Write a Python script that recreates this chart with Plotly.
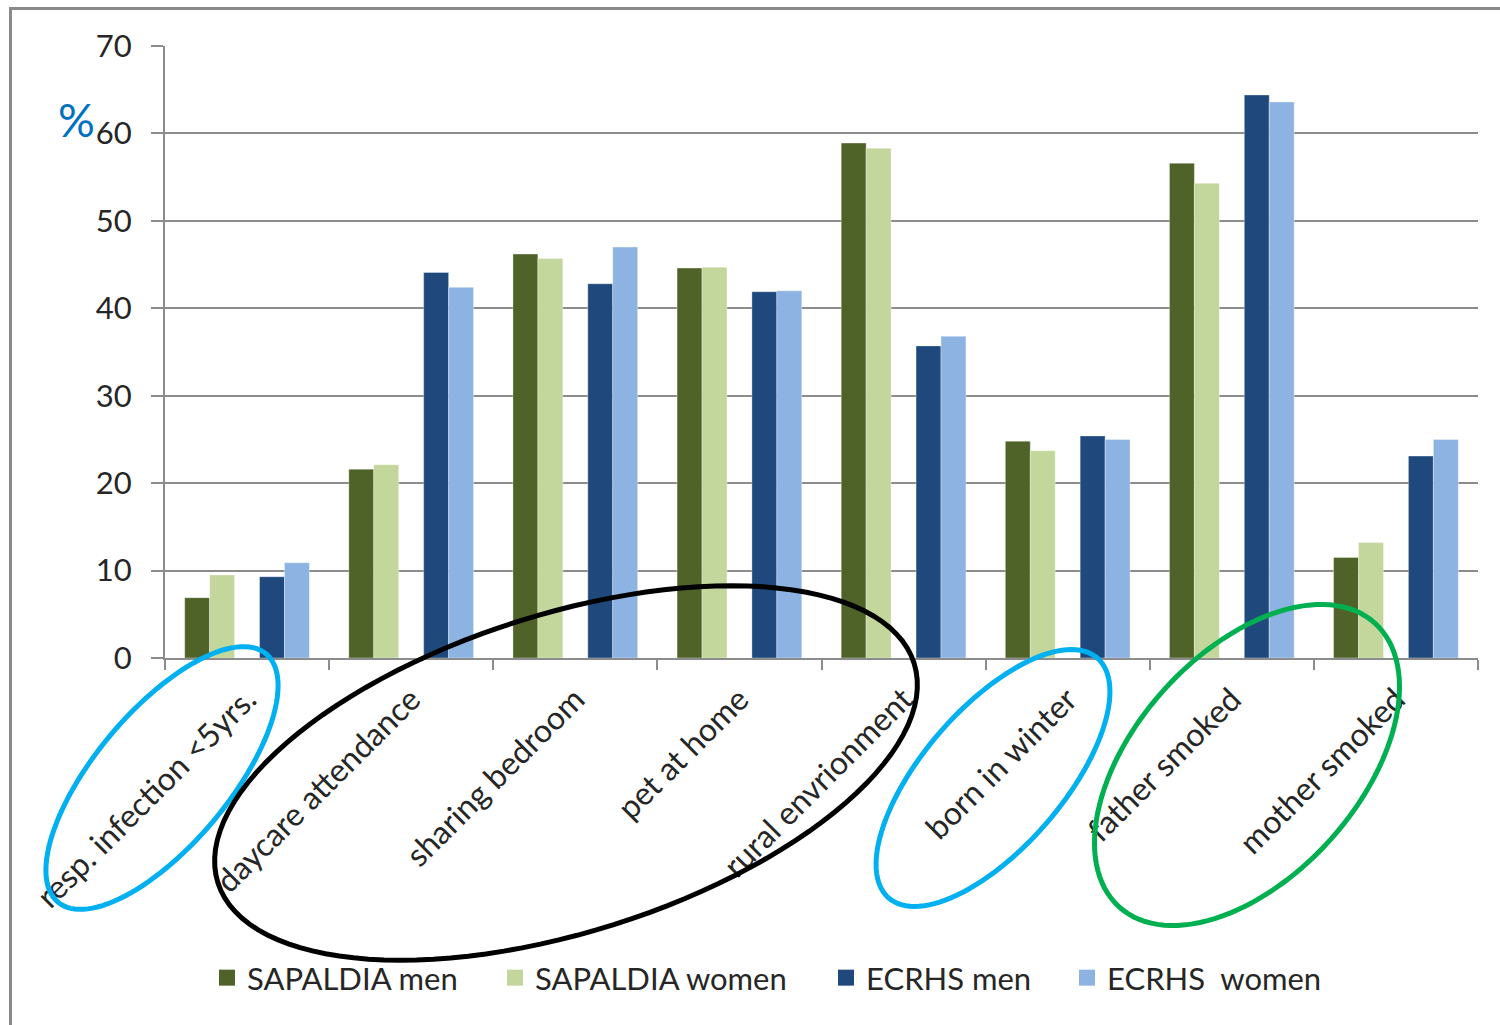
import numpy as np
import plotly.graph_objects as go

# ---- data -------------------------------------------------------------
categories = [
    "resp. infection <5yrs.",
    "daycare attendance",
    "sharing bedroom",
    "pet at home",
    "rural envrionment",
    "born in winter",
    "father smoked",
    "mother smoked",
]
sapaldia_men = [6.9, 21.6, 46.2, 44.6, 58.9, 24.8, 56.6, 11.5]
sapaldia_women = [9.5, 22.1, 45.7, 44.7, 58.3, 23.7, 54.3, 13.2]
ecrhs_men = [9.3, 44.1, 42.8, 41.9, 35.7, 25.4, 64.4, 23.1]
ecrhs_women = [10.9, 42.4, 47.0, 42.0, 36.8, 25.0, 63.6, 25.0]

series_names = ["SAPALDIA men", "SAPALDIA women", "ECRHS men", "ECRHS  women"]
y_ticks = [0, 10, 20, 30, 40, 50, 60, 70]

# ---- page geometry ----------------------------------------------------
W, H = 1500, 1025
ML, MR, MT, MB = 165, 22, 46, 367
PW, PH = W - ML - MR, H - MT - MB


def px_x(px):
    return (px - ML) / PW


def px_y(py):
    return (H - MB - py) / PH


FONT = "Lato, Carlito, 'Open Sans', sans-serif"
TXT = "#262626"
GRID = "#8c8c8c"

colors = ["#4F6228", "#C3D69B", "#1F497D", "#8DB3E2"]
# five slots per category, the middle one left empty
slot = 0.152
offsets = [-2.5 * slot, -1.5 * slot, 0.5 * slot, 1.5 * slot]
values = [sapaldia_men, sapaldia_women, ecrhs_men, ecrhs_women]
legend_ids = ["legend", "legend2", "legend3", "legend4"]

fig = go.Figure()
for name, vals, col, off in zip(series_names, values, colors, offsets):
    fig.add_trace(
        go.Bar(
            x=categories,
            y=vals,
            name=name,
            marker=dict(color=col, line=dict(color="rgba(255,255,255,0.35)", width=1)),
            width=slot,
            offset=off,
            showlegend=False,
        )
    )

# legend entries with larger square swatches
for name, col, lg in zip(series_names, colors, legend_ids):
    fig.add_trace(
        go.Scatter(
            x=[None],
            y=[None],
            mode="markers",
            name=name,
            marker=dict(symbol="square", size=17, color=col, line=dict(width=0)),
            legend=lg,
            hoverinfo="skip",
        )
    )


def ellipse_path(cx, cy, a, b, theta_deg, n=120):
    th = np.radians(theta_deg)
    t = np.linspace(0, 2 * np.pi, n, endpoint=False)
    xs = cx + a * np.cos(t) * np.cos(th) + b * np.sin(t) * np.sin(th)
    ys = cy - a * np.cos(t) * np.sin(th) + b * np.sin(t) * np.cos(th)
    pts = [f"{px_x(x):.5f},{px_y(y):.5f}" for x, y in zip(xs, ys)]
    return "M" + " L".join(pts) + " Z"


shapes = [
    # outer chart frame
    dict(
        type="path",
        xref="paper",
        yref="paper",
        path=f"M{px_x(10.5):.5f},{px_y(1040):.5f} L{px_x(10.5):.5f},{px_y(8.5):.5f} L{px_x(1510):.5f},{px_y(8.5):.5f}",
        line=dict(color="#8a8a8a", width=3),
    ),
    dict(type="path", xref="paper", yref="paper",
         path=ellipse_path(162, 778, 162, 67, 50), line=dict(color="#00B0F0", width=5)),
    dict(type="path", xref="paper", yref="paper",
         path=ellipse_path(566, 773, 365, 159, 17.5), line=dict(color="#000000", width=5)),
    dict(type="path", xref="paper", yref="paper",
         path=ellipse_path(993, 778, 159, 70, 49), line=dict(color="#00B0F0", width=5)),
    dict(type="path", xref="paper", yref="paper",
         path=ellipse_path(1247, 765, 191, 112, 48), line=dict(color="#00B050", width=5)),
]

legend_text_x = [247, 535, 866, 1107]
legend_cfg = {}
for lg, tx in zip(legend_ids, legend_text_x):
    legend_cfg[lg] = dict(
        orientation="h",
        x=px_x(tx - 40),
        xanchor="left",
        y=px_y(978),
        yanchor="middle",
        font=dict(family=FONT, size=31, color=TXT),
        bgcolor="rgba(0,0,0,0)",
        itemsizing="trace",
    )

fig.update_layout(
    width=W,
    height=H,
    autosize=False,
    margin=dict(l=ML, r=MR, t=MT, b=MB),
    paper_bgcolor="white",
    plot_bgcolor="white",
    barmode="overlay",
    showlegend=True,
    shapes=shapes,
    annotations=[
        dict(
            text="%",
            xref="paper",
            yref="paper",
            x=px_x(76),
            y=px_y(119),
            xanchor="center",
            yanchor="middle",
            showarrow=False,
            font=dict(family=FONT, size=46, color="#0070C0"),
        )
    ],
    xaxis=dict(
        type="category",
        range=[-0.5, len(categories) - 0.5],
        showline=True,
        linecolor=GRID,
        linewidth=2,
        ticks="outside",
        tickson="boundaries",
        ticklen=10,
        tickwidth=2,
        tickcolor=GRID,
        tickangle=-45,
        tickfont=dict(family=FONT, size=32, color=TXT),
        ticklabelstandoff=8,
        showgrid=False,
    ),
    yaxis=dict(
        range=[0, 70],
        tickvals=y_ticks,
        showgrid=True,
        gridcolor=GRID,
        gridwidth=1.5,
        showline=True,
        linecolor=GRID,
        linewidth=2,
        ticks="outside",
        ticklen=12,
        tickwidth=2,
        tickcolor=GRID,
        zeroline=False,
        tickfont=dict(family=FONT, size=31, color=TXT),
        ticklabelstandoff=13,
    ),
    **legend_cfg,
)

fig.write_html("out.html")
